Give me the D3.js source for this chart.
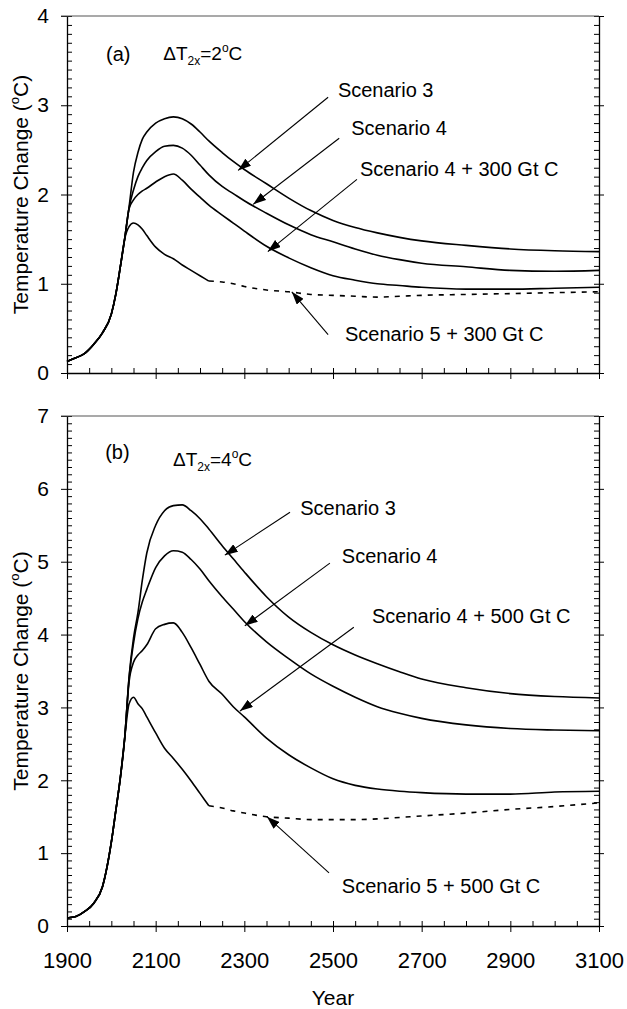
<!DOCTYPE html>
<html>
<head>
<meta charset="utf-8">
<script src="https://cdn.jsdelivr.net/npm/d3@7"></script>
<style>
  html, body { margin: 0; padding: 0; background: #fff; }
  svg { display: block; font-family: "Liberation Sans", Arial, sans-serif; }
</style>
</head>
<body>
<svg id="chart" width="627" height="1009"></svg>
<script>
// ---- data: temperature change (°C) by year ----
const years = [1900, 1920, 1940, 1960, 1980, 2000, 2010, 2020, 2030, 2040, 2050, 2060, 2070, 2080,
  2100, 2120, 2140, 2160, 2180, 2200, 2220, 2250, 2275, 2300, 2350, 2400, 2450, 2500, 2550,
  2600, 2650, 2700, 2800, 2900, 3000, 3100];

// panel (a), ΔT2x = 2 °C
const aScenario3 = [0.13, 0.17, 0.22, 0.32, 0.45, 0.66, 0.88, 1.18, 1.50, 1.86, 2.25, 2.47, 2.62, 2.70,
  2.80, 2.85, 2.87, 2.85, 2.79, 2.70, 2.60, 2.47, 2.37, 2.28, 2.12, 1.96, 1.82, 1.71, 1.63,
  1.57, 1.52, 1.48, 1.43, 1.39, 1.37, 1.36];
const aScenario4 = [0.13, 0.17, 0.22, 0.32, 0.45, 0.66, 0.88, 1.18, 1.50, 1.85, 2.05, 2.20, 2.30, 2.38,
  2.48, 2.54, 2.55, 2.52, 2.44, 2.33, 2.22, 2.09, 2.01, 1.93, 1.79, 1.66, 1.55, 1.47, 1.39,
  1.32, 1.27, 1.23, 1.19, 1.15, 1.14, 1.15];
const aScenario4Plus300 = [0.13, 0.17, 0.22, 0.32, 0.45, 0.66, 0.88, 1.18, 1.50, 1.84, 1.94, 2.00, 2.04, 2.07,
  2.14, 2.20, 2.23, 2.16, 2.06, 1.97, 1.88, 1.77, 1.68, 1.59, 1.42, 1.29, 1.18, 1.09, 1.04,
  1.00, 0.98, 0.96, 0.94, 0.94, 0.95, 0.96];
const aScenario5Plus300 = [0.13, 0.17, 0.22, 0.32, 0.45, 0.66, 0.88, 1.18, 1.50, 1.64, 1.68, 1.66, 1.61, 1.54,
  1.41, 1.33, 1.28, 1.21, 1.15, 1.09, 1.03, 1.02, 1.00, 0.97, 0.93, 0.91, 0.88, 0.87, 0.86,
  0.85, 0.86, 0.87, 0.88, 0.89, 0.90, 0.91];

// panel (b), ΔT2x = 4 °C
const bScenario3 = [0.11, 0.13, 0.20, 0.31, 0.54, 1.15, 1.58, 2.02, 2.57, 3.42, 3.95, 4.30, 4.75, 5.12,
  5.50, 5.70, 5.77, 5.78, 5.70, 5.59, 5.45, 5.22, 5.04, 4.86, 4.52, 4.24, 4.03, 3.86, 3.72,
  3.60, 3.49, 3.39, 3.27, 3.19, 3.15, 3.13];
const bScenario4 = [0.11, 0.13, 0.20, 0.31, 0.54, 1.15, 1.58, 2.02, 2.57, 3.40, 3.88, 4.22, 4.45, 4.62,
  4.92, 5.08, 5.15, 5.13, 5.03, 4.90, 4.74, 4.52, 4.35, 4.18, 3.90, 3.67, 3.46, 3.29, 3.14,
  3.01, 2.92, 2.85, 2.76, 2.71, 2.69, 2.68];
const bScenario4Plus500 = [0.11, 0.13, 0.20, 0.31, 0.54, 1.15, 1.58, 2.02, 2.57, 3.35, 3.62, 3.72, 3.78, 3.86,
  4.08, 4.14, 4.16, 4.03, 3.82, 3.59, 3.36, 3.18, 3.01, 2.87, 2.58, 2.35, 2.17, 2.02, 1.93,
  1.88, 1.85, 1.83, 1.81, 1.81, 1.84, 1.85];
const bScenario5Plus500 = [0.11, 0.13, 0.20, 0.31, 0.54, 1.15, 1.58, 2.02, 2.57, 3.05, 3.14, 3.05, 2.98, 2.87,
  2.65, 2.44, 2.30, 2.15, 1.99, 1.82, 1.65, 1.62, 1.58, 1.55, 1.50, 1.48, 1.46, 1.46, 1.46,
  1.47, 1.49, 1.51, 1.55, 1.60, 1.64, 1.69];

// Scenario 5 runs are dashed from this year on
const dashedFromYear = 2220;

// tick values
const xMajorTicks = [1900, 2100, 2300, 2500, 2700, 2900, 3100];
const yMajorTicksA = [0, 1, 2, 3, 4];
const yMajorTicksB = [0, 1, 2, 3, 4, 5, 6, 7];

// ---- layout ----
const plotLeft = 67, plotRight = 599;

const svg = d3.select("#chart");
const x = d3.scaleLinear().domain([1900, 3100]).range([plotLeft, plotRight]);

const defs = svg.append("defs");
defs.append("marker")
  .attr("id", "arrowhead")
  .attr("viewBox", "0 0 13 9")
  .attr("refX", 13).attr("refY", 4.5)
  .attr("markerWidth", 13).attr("markerHeight", 9)
  .attr("markerUnits", "userSpaceOnUse")
  .attr("orient", "auto")
  .append("path").attr("d", "M0,0 L13,4.5 L0,9 Z").attr("fill", "#000");

function zip(vals) { return years.map((yr, i) => ({ year: yr, v: vals[i] })); }

function drawPanel(cfg) {
  const y = d3.scaleLinear().domain([0, cfg.yMax]).range([cfg.bottom, cfg.top]);
  const g = svg.append("g");

  // minor ticks, inside the frame
  const minorY = d3.range(0, cfg.yMax * 10 + 1).map(d => d / 10);
  g.append("g").attr("transform", `translate(${plotLeft},0)`)
    .call(d3.axisLeft(y).tickValues(minorY).tickSize(-5).tickSizeOuter(0).tickFormat(""))
    .call(a => a.select(".domain").remove());
  g.append("g").attr("transform", `translate(${plotRight},0)`)
    .call(d3.axisRight(y).tickValues(minorY).tickSize(-5).tickSizeOuter(0).tickFormat(""))
    .call(a => a.select(".domain").remove());
  g.append("g").attr("transform", `translate(0,${cfg.bottom})`)
    .call(d3.axisBottom(x).tickValues(d3.range(1900, 3101, 50)).tickSize(-5).tickSizeOuter(0).tickFormat(""))
    .call(a => a.select(".domain").remove());

  // major ticks, outside
  const left = g.append("g").attr("transform", `translate(${plotLeft},0)`)
    .call(d3.axisLeft(y).tickValues(cfg.yTicks).tickSize(6).tickSizeOuter(0).tickPadding(12).tickFormat(d3.format("d")));
  left.selectAll("text").attr("font-size", 21).attr("font-family", "Liberation Sans, Arial, sans-serif").attr("fill", "#000");
  g.append("g").attr("transform", `translate(${plotRight},0)`)
    .call(d3.axisRight(y).tickValues(cfg.yTicks).tickSize(5).tickSizeOuter(0).tickFormat(""));
  const bottom = g.append("g").attr("transform", `translate(0,${cfg.bottom})`)
    .call(d3.axisBottom(x).tickValues(xMajorTicks).tickSize(6).tickSizeOuter(0).tickPadding(20)
      .tickFormat(cfg.xLabels ? d3.format("d") : ""));
  bottom.selectAll("text").attr("font-size", 22).attr("font-family", "Liberation Sans, Arial, sans-serif").attr("fill", "#000");

  g.selectAll(".domain").attr("stroke", "#000").attr("stroke-width", 1.3);
  g.selectAll(".tick line").attr("stroke", "#000").attr("stroke-width", 1);

  // top frame
  g.append("line")
    .attr("x1", plotLeft - 6).attr("x2", plotRight)
    .attr("y1", cfg.top).attr("y2", cfg.top)
    .attr("stroke", "#555").attr("stroke-width", 1.2);

  // y title
  const ty = g.append("text")
    .attr("transform", `translate(28,${(cfg.top + cfg.bottom) / 2}) rotate(-90)`)
    .attr("text-anchor", "middle").attr("font-size", 21).attr("fill", "#000");
  ty.append("tspan").text("Temperature Change (");
  ty.append("tspan").attr("font-size", 13).attr("dy", -9).text("o");
  ty.append("tspan").attr("dy", 9).text("C)");

  // curves
  const line = d3.line().x(d => x(d.year)).y(d => y(d.v)).curve(d3.curveMonotoneX);
  cfg.series.forEach(s => {
    const pts = zip(s.values);
    if (s.dashed) {
      g.append("path").datum(pts.filter(d => d.year <= dashedFromYear))
        .attr("d", line).attr("fill", "none").attr("stroke", "#000").attr("stroke-width", 1.6);
      g.append("path").datum(pts.filter(d => d.year >= dashedFromYear))
        .attr("d", line).attr("fill", "none").attr("stroke", "#000").attr("stroke-width", 1.6)
        .attr("stroke-dasharray", "5,6");
    } else {
      g.append("path").datum(pts)
        .attr("d", line).attr("fill", "none").attr("stroke", "#000").attr("stroke-width", 1.6);
    }
  });

  // panel letter and climate sensitivity
  g.append("text").attr("x", x(cfg.letterAt[0])).attr("y", y(cfg.letterAt[1]))
    .attr("font-size", 20).attr("fill", "#000").text(cfg.letter);
  const dt = g.append("text").attr("x", x(cfg.sensAt[0])).attr("y", y(cfg.sensAt[1]))
    .attr("font-size", 19).attr("fill", "#000");
  dt.append("tspan").text("ΔT");
  dt.append("tspan").attr("font-size", 12).attr("dy", 5).text("2x");
  dt.append("tspan").attr("dy", -5).text("=" + cfg.sens);
  dt.append("tspan").attr("font-size", 12).attr("dy", -8).text("o");
  dt.append("tspan").attr("dy", 8).text("C");

  // scenario labels with arrows
  cfg.series.forEach(s => {
    const a = s.label;
    g.append("text").attr("x", x(a.text[0])).attr("y", y(a.text[1]))
      .attr("font-size", 20).attr("fill", "#000").text(s.name);
    g.append("line")
      .attr("x1", x(a.from[0])).attr("y1", y(a.from[1]))
      .attr("x2", x(a.to[0])).attr("y2", y(a.to[1]))
      .attr("stroke", "#000").attr("stroke-width", 1.1)
      .attr("marker-end", "url(#arrowhead)");
  });
}

drawPanel({
  top: 16, bottom: 373, yMax: 4, yTicks: yMajorTicksA, xLabels: false,
  letter: "(a)", letterAt: [1988, 3.50], sens: "2", sensAt: [2117, 3.51],
  series: [
    { name: "Scenario 3", values: aScenario3,
      label: { text: [2511, 3.09], from: [2489, 3.09], to: [2286, 2.27] } },
    { name: "Scenario 4", values: aScenario4,
      label: { text: [2541, 2.67], from: [2514, 2.63], to: [2320, 1.89] } },
    { name: "Scenario 4 + 300 Gt C", values: aScenario4Plus300,
      label: { text: [2561, 2.21], from: [2554, 2.17], to: [2353, 1.36] } },
    { name: "Scenario 5 + 300 Gt C", values: aScenario5Plus300, dashed: true,
      label: { text: [2527, 0.36], from: [2489, 0.43], to: [2407, 0.91] } }
  ]
});

drawPanel({
  top: 416, bottom: 926, yMax: 7, yTicks: yMajorTicksB, xLabels: true,
  letter: "(b)", letterAt: [1986, 6.41], sens: "4", sensAt: [2139, 6.31],
  series: [
    { name: "Scenario 3", values: bScenario3,
      label: { text: [2426, 5.64], from: [2403, 5.68], to: [2256, 5.09] } },
    { name: "Scenario 4", values: bScenario4,
      label: { text: [2520, 4.98], from: [2493, 4.98], to: [2301, 4.12] } },
    { name: "Scenario 4 + 500 Gt C", values: bScenario4Plus500,
      label: { text: [2588, 4.16], from: [2547, 4.10], to: [2290, 2.95] } },
    { name: "Scenario 5 + 500 Gt C", values: bScenario5Plus500, dashed: true,
      label: { text: [2520, 0.45], from: [2491, 0.73], to: [2351, 1.50] } }
  ]
});

// x title
svg.append("text").attr("x", (plotLeft + plotRight) / 2).attr("y", 1005)
  .attr("text-anchor", "middle").attr("font-size", 21).attr("fill", "#000").text("Year");
</script>
</body>
</html>
